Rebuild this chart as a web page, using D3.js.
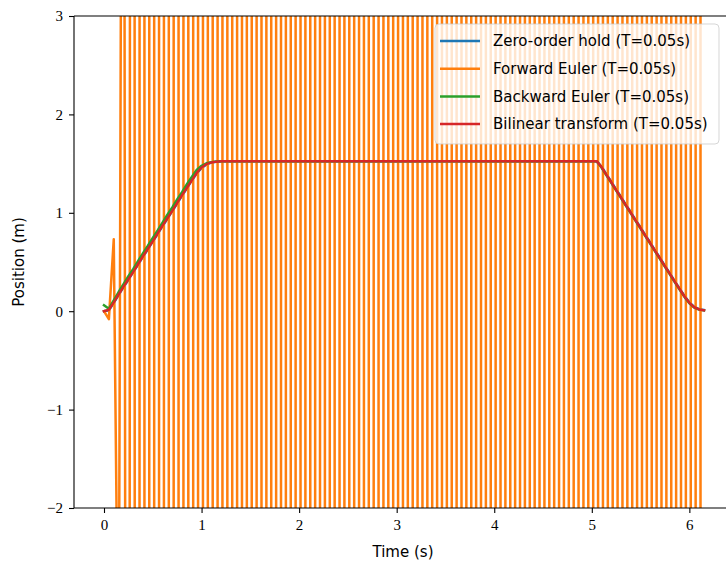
<!DOCTYPE html>
<html>
<head>
<meta charset="utf-8">
<script src="https://cdn.jsdelivr.net/npm/d3@7"></script>
<style>
  body { margin: 0; background: #fff; }
  .tick text { font-family: "Liberation Serif", serif; font-size: 15px; fill: #000; }
  .lbl { font-family: "DejaVu Sans", sans-serif; font-size: 15px; fill: #000; }
</style>
</head>
<body>
<div class="chart"></div>
<script>
// sample step T = 0.05 s, 124 samples (0 .. 6.15 s)
var T = 0.05;
var time = d3.range(124).map(i => +(i * T).toFixed(2));

var seriesNames = [
  "Zero-order hold (T=0.05s)",
  "Forward Euler (T=0.05s)",
  "Backward Euler (T=0.05s)",
  "Bilinear transform (T=0.05s)"
];
var colors = ["#1f77b4", "#ff7f0e", "#2ca02c", "#d62728"];

var xTicks = [0, 1, 2, 3, 4, 5, 6];
var yTicks = [-2, -1, 0, 1, 2, 3];

var zoh = [
  0, 0.01, 0.085, 0.165, 0.245, 0.32, 0.40, 0.475, 0.555, 0.63, 0.71, 0.785, 0.865, 0.94, 1.02, 1.095,
  1.175, 1.25, 1.33, 1.40, 1.455, 1.492, 1.51, 1.519, 1.523,
  1.525, 1.525, 1.525, 1.525, 1.525, 1.525, 1.525, 1.525, 1.525, 1.525, 1.525,
  1.525, 1.525, 1.525, 1.525, 1.525, 1.525, 1.525, 1.525, 1.525, 1.525, 1.525,
  1.525, 1.525, 1.525, 1.525, 1.525, 1.525, 1.525, 1.525, 1.525, 1.525, 1.525,
  1.525, 1.525, 1.525, 1.525, 1.525, 1.525, 1.525, 1.525, 1.525, 1.525, 1.525,
  1.525, 1.525, 1.525, 1.525, 1.525, 1.525, 1.525, 1.525, 1.525, 1.525, 1.525,
  1.525, 1.525, 1.525, 1.525, 1.525, 1.525, 1.525, 1.525, 1.525, 1.525, 1.525,
  1.525, 1.525, 1.525, 1.525, 1.525, 1.525, 1.525, 1.525, 1.525, 1.525, 1.525,
  1.468, 1.39, 1.315, 1.235, 1.16, 1.08, 1.005, 0.925, 0.85, 0.77, 0.695,
  0.615, 0.54, 0.46, 0.385, 0.305, 0.23, 0.155, 0.09, 0.043, 0.02, 0.011
];

var forwardEuler = [
  0, -0.08, 0.73,
  -4.1, 11.8, -29, 73, -180, 450,
  -1.1e3, 2.8e3, -7e3, 1.75e4, -4.4e4,
  1.1e5, -2.8e5, 7e5, -1.75e6, 4.4e6,
  -1.1e7, 2.8e7, -7e7, 1.75e8, -4.4e8,
  1.1e9, -2.8e9, 7e9, -1.75e10, 4.4e10,
  -1.1e11, 2.8e11, -7e11, 1.75e12, -4.4e12,
  1.1e13, -2.8e13, 7e13, -1.75e14, 4.4e14,
  -1.1e15, 2.8e15, -7e15, 1.75e16, -4.4e16,
  1.1e17, -2.8e17, 7e17, -1.75e18, 4.4e18,
  -1.1e19, 2.8e19, -7e19, 1.75e20, -4.4e20,
  1.1e21, -2.8e21, 7e21, -1.75e22, 4.4e22,
  -1.1e23, 2.8e23, -7e23, 1.75e24, -4.4e24,
  1.1e25, -2.8e25, 7e25, -1.75e26, 4.4e26,
  -1.1e27, 2.8e27, -7e27, 1.75e28, -4.4e28,
  1.1e29, -2.8e29, 7e29, -1.75e30, 4.4e30,
  -1.1e31, 2.8e31, -7e31, 1.75e32, -4.4e32,
  1.1e33, -2.8e33, 7e33, -1.75e34, 4.4e34,
  -1.1e35, 2.8e35, -7e35, 1.75e36, -4.4e36,
  1.1e37, -2.8e37, 7e37, -1.75e38, 4.4e38,
  -1.1e39, 2.8e39, -7e39, 1.75e40, -4.4e40,
  1.1e41, -2.8e41, 7e41, -1.75e42, 4.4e42,
  -1.1e43, 2.8e43, -7e43, 1.75e44, -4.4e44,
  1.1e45, -2.8e45, 7e45, -1.75e46, 4.4e46,
  -1.1e47, 2.8e47, -7e47, 1.75e48, -4.4e48
];

var backwardEuler = [
  0.06, 0.025, 0.11, 0.195, 0.275, 0.355, 0.43, 0.51, 0.59, 0.665, 0.745, 0.82, 0.90, 0.98, 1.055, 1.135,
  1.21, 1.29, 1.365, 1.435, 1.478, 1.503, 1.515, 1.521, 1.524,
  1.525, 1.525, 1.525, 1.525, 1.525, 1.525, 1.525, 1.525, 1.525, 1.525, 1.525,
  1.525, 1.525, 1.525, 1.525, 1.525, 1.525, 1.525, 1.525, 1.525, 1.525, 1.525,
  1.525, 1.525, 1.525, 1.525, 1.525, 1.525, 1.525, 1.525, 1.525, 1.525, 1.525,
  1.525, 1.525, 1.525, 1.525, 1.525, 1.525, 1.525, 1.525, 1.525, 1.525, 1.525,
  1.525, 1.525, 1.525, 1.525, 1.525, 1.525, 1.525, 1.525, 1.525, 1.525, 1.525,
  1.525, 1.525, 1.525, 1.525, 1.525, 1.525, 1.525, 1.525, 1.525, 1.525, 1.525,
  1.525, 1.525, 1.525, 1.525, 1.525, 1.525, 1.525, 1.525, 1.525, 1.525, 1.525,
  1.46, 1.38, 1.305, 1.225, 1.15, 1.07, 0.995, 0.915, 0.84, 0.76, 0.685,
  0.605, 0.53, 0.45, 0.375, 0.295, 0.22, 0.145, 0.08, 0.037, 0.016, 0.008
];

var bilinear = [
  0, 0.015, 0.09, 0.17, 0.25, 0.325, 0.40, 0.48, 0.56, 0.635, 0.71, 0.79, 0.87, 0.945, 1.02, 1.10,
  1.18, 1.255, 1.33, 1.405, 1.46, 1.495, 1.512, 1.52, 1.523,
  1.525, 1.525, 1.525, 1.525, 1.525, 1.525, 1.525, 1.525, 1.525, 1.525, 1.525,
  1.525, 1.525, 1.525, 1.525, 1.525, 1.525, 1.525, 1.525, 1.525, 1.525, 1.525,
  1.525, 1.525, 1.525, 1.525, 1.525, 1.525, 1.525, 1.525, 1.525, 1.525, 1.525,
  1.525, 1.525, 1.525, 1.525, 1.525, 1.525, 1.525, 1.525, 1.525, 1.525, 1.525,
  1.525, 1.525, 1.525, 1.525, 1.525, 1.525, 1.525, 1.525, 1.525, 1.525, 1.525,
  1.525, 1.525, 1.525, 1.525, 1.525, 1.525, 1.525, 1.525, 1.525, 1.525, 1.525,
  1.525, 1.525, 1.525, 1.525, 1.525, 1.525, 1.525, 1.525, 1.525, 1.525, 1.525,
  1.465, 1.385, 1.31, 1.23, 1.155, 1.075, 1.0, 0.92, 0.845, 0.765, 0.69,
  0.61, 0.535, 0.455, 0.38, 0.30, 0.225, 0.15, 0.085, 0.04, 0.018, 0.01
];

var allSeries = [zoh, forwardEuler, backwardEuler, bilinear];

var svgWidth = 726;
var svgHeight = 564;
var plot = { left: 74, right: 734, top: 16, bottom: 508 };

var svg = d3.select(".chart")
  .append("svg")
  .attr("width", svgWidth)
  .attr("height", svgHeight);

var x = d3.scaleLinear().domain([-0.3075, 6.4575]).range([plot.left, plot.right]);
var y = d3.scaleLinear().domain([-2, 3]).range([plot.bottom, plot.top]);

svg.append("clipPath").attr("id", "plotclip")
  .append("rect")
  .attr("x", plot.left).attr("y", plot.top)
  .attr("width", plot.right - plot.left).attr("height", plot.bottom - plot.top);

// cut each segment to a y band so the huge forward Euler values stay drawable
function clipToBand(xs, ys, lo, hi) {
  var out = [];
  var open = false;
  for (var i = 0; i < xs.length - 1; i++) {
    var x0 = xs[i], y0 = ys[i], x1 = xs[i + 1], y1 = ys[i + 1];
    var dy = y1 - y0;
    var t0 = 0, t1 = 1, y0c = y0, y1c = y1;
    if (dy === 0) {
      if (y0 < lo || y0 > hi) { t0 = 1; t1 = 0; }
    } else {
      var s = -y0 / dy;
      var tLo = s + lo / dy, tHi = s + hi / dy;
      var tIn = dy > 0 ? tLo : tHi, tOut = dy > 0 ? tHi : tLo;
      if (tIn > 0) { t0 = tIn; y0c = dy > 0 ? lo : hi; }
      if (tOut < 1) { t1 = tOut; y1c = dy > 0 ? hi : lo; }
    }
    if (t0 > t1) {
      if (open) out.push(null);
      open = false;
      continue;
    }
    if (!(open && t0 === 0)) {
      if (out.length && out[out.length - 1] !== null) out.push(null);
      out.push([x0 + t0 * (x1 - x0), y0c]);
    }
    out.push([x0 + t1 * (x1 - x0), y1c]);
    open = (t1 === 1);
  }
  return out;
}

var line = d3.line()
  .defined(d => d !== null)
  .x(d => x(d[0]))
  .y(d => y(d[1]));

var linesGroup = svg.append("g").attr("clip-path", "url(#plotclip)");

allSeries.forEach(function(vals, i) {
  linesGroup.append("path")
    .attr("d", line(clipToBand(time, vals, -2.6, 3.6)))
    .attr("fill", "none")
    .attr("stroke", colors[i])
    .attr("stroke-width", 2.5)
    .attr("stroke-linejoin", "round")
    .attr("stroke-linecap", "square");
});

// axes
var bottomAxis = d3.axisBottom(x).tickValues(xTicks).tickSize(5).tickPadding(6)
  .tickFormat(d3.format("d"));
var leftAxis = d3.axisLeft(y).tickValues(yTicks).tickSize(5).tickPadding(6)
  .tickFormat(d => d < 0 ? "\u2212" + Math.abs(d) : d);

var xAxis = svg.append("g")
  .attr("transform", `translate(0, ${plot.bottom})`)
  .call(bottomAxis);
var yAxis = svg.append("g")
  .attr("transform", `translate(${plot.left}, 0)`)
  .call(leftAxis);

[xAxis, yAxis].forEach(function(g) {
  g.select(".domain").remove();
  g.selectAll(".tick line").attr("stroke", "#000").attr("stroke-width", 1.1);
});

// spines
var spines = svg.append("g").attr("stroke", "#000").attr("stroke-width", 1.1).attr("fill", "none");
spines.append("line").attr("x1", plot.left).attr("x2", plot.left).attr("y1", plot.top).attr("y2", plot.bottom);
spines.append("line").attr("x1", plot.left).attr("x2", plot.right).attr("y1", plot.bottom).attr("y2", plot.bottom);
spines.append("line").attr("x1", plot.left).attr("x2", plot.right).attr("y1", plot.top).attr("y2", plot.top);
spines.append("line").attr("x1", plot.right).attr("x2", plot.right).attr("y1", plot.top).attr("y2", plot.bottom);

// axis labels
svg.append("text")
  .attr("class", "lbl")
  .attr("x", 403)
  .attr("y", 557)
  .attr("text-anchor", "middle")
  .text("Time (s)");

svg.append("text")
  .attr("class", "lbl")
  .attr("transform", `translate(24, ${(plot.top + plot.bottom) / 2}) rotate(-90)`)
  .attr("text-anchor", "middle")
  .text("Position (m)");

// legend
var legend = svg.append("g");
legend.append("rect")
  .attr("x", 435).attr("y", 24)
  .attr("width", 284).attr("height", 120)
  .attr("rx", 4)
  .attr("fill", "#fff").attr("fill-opacity", 0.8)
  .attr("stroke", "#cccccc").attr("stroke-opacity", 0.8);

var rows = legend.selectAll("g.row")
  .data(seriesNames)
  .enter()
  .append("g")
  .attr("transform", (d, i) => `translate(0, ${41 + i * 27.7})`);

rows.append("line")
  .attr("x1", 440).attr("x2", 480)
  .attr("stroke", (d, i) => colors[i])
  .attr("stroke-width", 2.5);

rows.append("text")
  .attr("class", "lbl")
  .attr("x", 493)
  .attr("dy", "0.35em")
  .text(d => d);
</script>
</body>
</html>
